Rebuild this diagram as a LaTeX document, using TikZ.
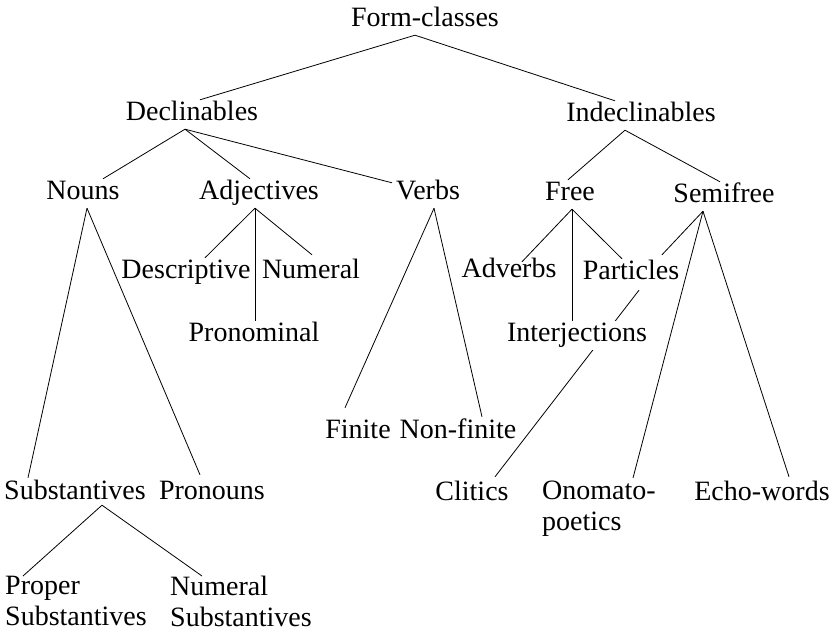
\documentclass[tikz,border=0pt]{standalone}
\usepackage{fontspec}
\setmainfont{Liberation Serif}
\usetikzlibrary{positioning,backgrounds}
\begin{document}
\begin{tikzpicture}[x=1pt,y=-1pt]
    \tikzstyle{word} = [inner sep=2pt, text height=19pt, text depth=6pt,
        font=\fontsize{28}{31}\selectfont]
    \tikzstyle{twoline} = [inner sep=0pt, align=left,
        font=\fontsize{28}{31}\selectfont]
    \tikzstyle{cover} = [fill=white]
    \tikzstyle{edge} = [line width=0.8pt]

    \useasboundingbox (0,0) rectangle (839,631);

    \node(formclasses) [word] at (425,27) [anchor=base] {Form-classes};
    \node(declinables) [word] at (192,121) [anchor=base] {Declinables};
    \node(indeclinables) [word] at (641,122) [anchor=base]
        {Indeclinables};

    \node(nouns) [word] at (83,200) [anchor=base] {Nouns};
    \node(adjectives) [word] at (259,200) [anchor=base] {Adjectives};
    \node(verbs) [word] at (428,200) [anchor=base] {Verbs};
    \node(free) [word] at (570,201) [anchor=base] {Free};
    \node(semifree) [word] at (724,203) [anchor=base] {Semifree};

    \node(descriptive) [word] at (186,279) [anchor=base] {Descriptive};
    \node(numeral) [word, right of=descriptive, node distance=125pt]
        {Numeral};
    \node(pronominal) [word] at (254,342) [anchor=base] {Pronominal};
    \node(adverbs) [word] at (509,278) [anchor=base] {Adverbs};
    \node(particles) [word] at (631,280) [anchor=base] {Particles};
    \node(interjections) [word, cover] at (577,342) [anchor=base]
        {Interjections};

    \node(finite) [word] at (358,438) [anchor=base] {Finite};
    \node(nonfinite) [word, right of=finite, node distance=100pt]
        {Non-finite};

    \node(substantives) [word] at (75,499) [anchor=base] {Substantives};
    \node(pronouns) [word, right of=substantives, node distance=137pt]
        {Pronouns};
    \node(clitics) [word] at (472,500) [anchor=base] {Clitics};
    \node(onomatopoetics) [twoline] at (542,481) [anchor=north west]
        {Onomato-\\poetics};
    \node(echowords) [word] at (762,500) [anchor=base] {Echo-words};

    \node(propersubst) [twoline] at (5,576) [anchor=north west]
        {Proper\\Substantives};
    \node(numeralsubst) [twoline] at (170,576) [anchor=north west]
        {Numeral\\Substantives};

    \begin{scope}[on background layer]
    \draw[edge] ([xshift=-10pt]formclasses.south) --
        ([xshift=8pt]declinables.north);
    \draw[edge] ([xshift=-10pt]formclasses.south) --
        ([xshift=-26pt]indeclinables.north);

    \draw[edge] ([xshift=-7pt]declinables.south) --
        ([xshift=20pt]nouns.north);
    \draw[edge] ([xshift=-7pt]declinables.south) --
        ([xshift=-9pt]adjectives.north);
    \draw[edge] ([xshift=-7pt]declinables.south) --
        ([xshift=-36pt,yshift=-4pt]verbs.north);
    \draw[edge] ([xshift=-16pt]indeclinables.south) --
        ([xshift=-2pt]free.north);
    \draw[edge] ([xshift=-16pt]indeclinables.south) --
        ([xshift=-4pt]semifree.north);

    \draw[edge] ([xshift=4pt]nouns.south) --
        ([xshift=-47pt]substantives.north);
    \draw[edge] ([xshift=4pt]nouns.south) --
        ([xshift=-12pt,yshift=3pt]pronouns.north);
    \draw[edge] ([xshift=-4pt]adjectives.south) --
        ([xshift=19pt]descriptive.north);
    \draw[edge] ([xshift=-4pt]adjectives.south) --
        ([xshift=1pt]pronominal.north);
    \draw[edge] ([xshift=-4pt]adjectives.south) --
        ([xshift=1pt,yshift=3pt]numeral.north);
    \draw[edge] ([xshift=6pt]verbs.south) --
        ([xshift=-13pt,yshift=9pt]finite.north);
    \draw[edge] ([xshift=6pt]verbs.south) --
        ([xshift=24pt]nonfinite.north);

    \draw[edge] ([xshift=2pt]free.south) --
        ([xshift=13pt,yshift=-5pt]adverbs.north);
    \draw[edge] ([xshift=2pt]free.south) --
        ([xshift=-5pt]interjections.north);
    \draw[edge] ([xshift=2pt]free.south) --
        ([xshift=-9pt]particles.north);
    \draw[edge] ([xshift=-21pt]semifree.south) --
        ([xshift=31pt,yshift=4pt]particles.north);
    \draw[edge] ([xshift=-21pt]semifree.south) --
        ([xshift=91pt,yshift=3pt]onomatopoetics.north west);
    \draw[edge] ([xshift=-21pt]semifree.south) --
        ([xshift=27pt,yshift=2pt]echowords.north);
    \draw[edge] ([xshift=8pt,yshift=-2pt]particles.south) --
        ([xshift=23pt,yshift=2pt]clitics.north);

    \draw[edge] ([xshift=27pt,yshift=2pt]substantives.south) --
        ([xshift=18pt]propersubst.north west);
    \draw[edge] ([xshift=27pt,yshift=2pt]substantives.south) --
        ([xshift=32pt]numeralsubst.north west);
    \end{scope}
\end{tikzpicture}
\end{document}
